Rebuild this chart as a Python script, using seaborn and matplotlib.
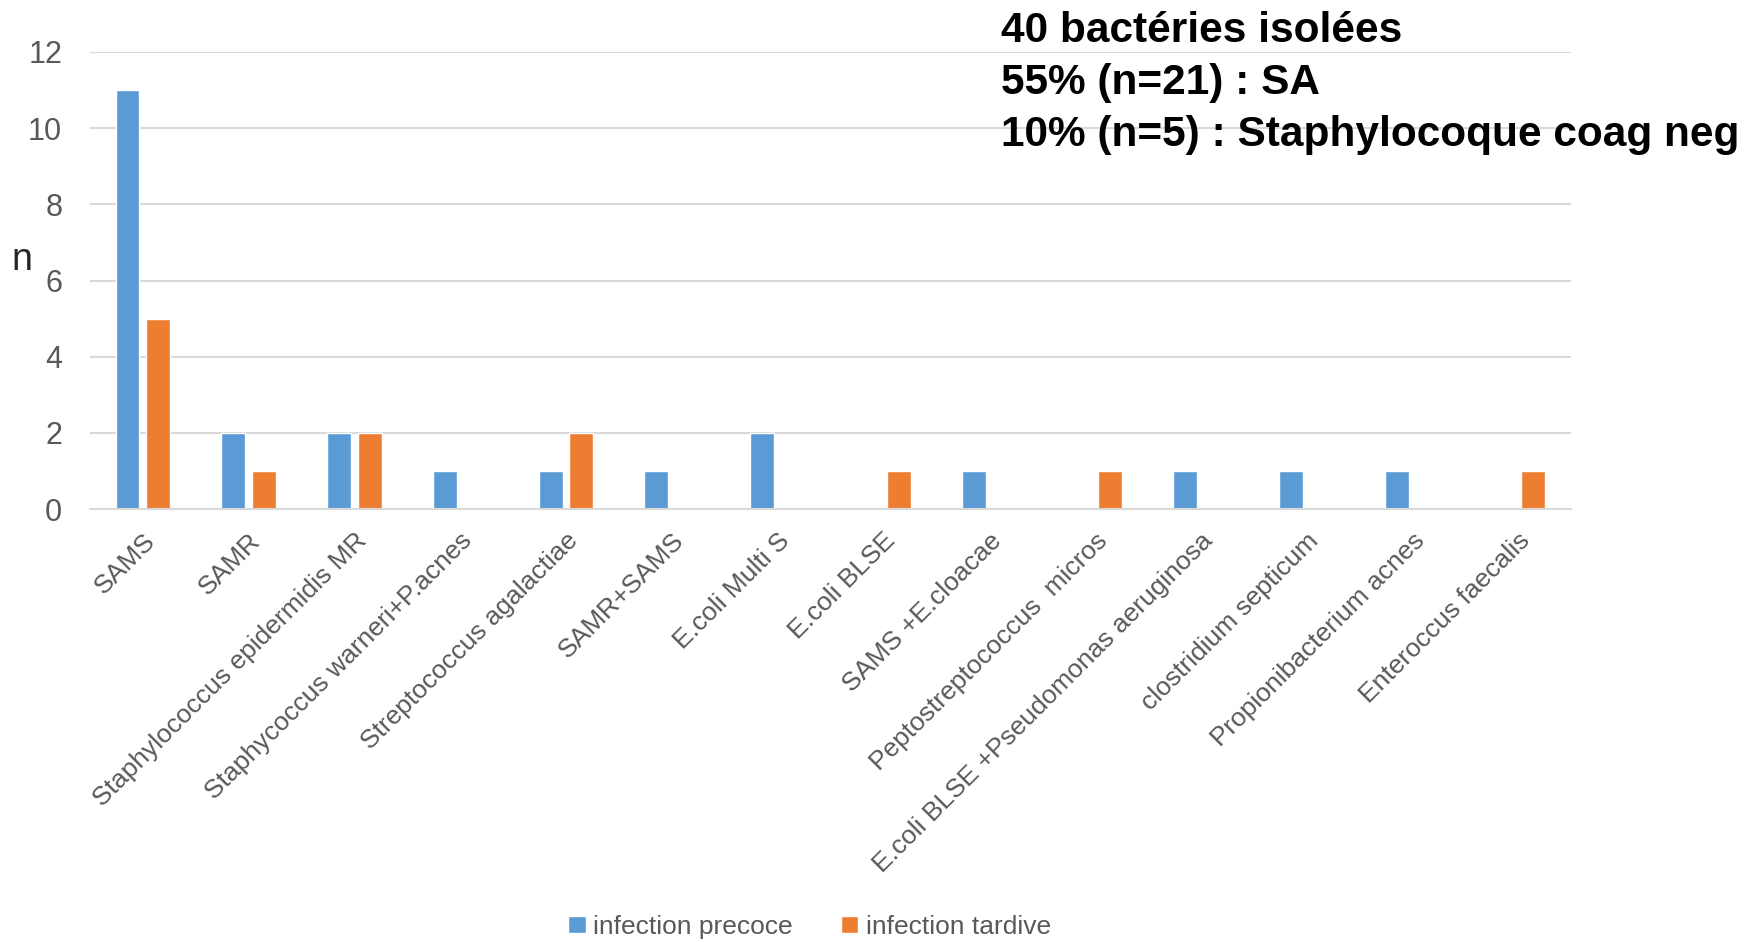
import matplotlib
matplotlib.use("Agg")
import matplotlib.pyplot as plt
import seaborn as sns
import pandas as pd

categories = [
    "SAMS", "SAMR", "Staphylococcus epidermidis MR", "Staphycoccus warneri+P.acnes",
    "Streptococcus agalactiae", "SAMR+SAMS", "E.coli Multi S", "E.coli BLSE",
    "SAMS +E.cloacae", "Peptostreptococcus  micros",
    "E.coli BLSE +Pseudomonas aeruginosa", "clostridium septicum",
    "Propionibacterium acnes", "Enteroccus faecalis",
]
precoce = [11, 2, 2, 1, 1, 1, 2, 0, 1, 0, 1, 1, 1, 0]
tardive = [5, 1, 2, 0, 2, 0, 0, 1, 0, 1, 0, 0, 0, 1]
series_names = ["infection precoce", "infection tardive"]
colors = ["#5B9BD5", "#ED7D31"]
y_ticks = [0, 2, 4, 6, 8, 10, 12]
note_lines = ["40 bactéries isolées", "55% (n=21) : SA", "10% (n=5) : Staphylocoque coag neg"]

df = pd.DataFrame({
    "cat": categories * 2,
    "n": precoce + tardive,
    "serie": [series_names[0]] * len(categories) + [series_names[1]] * len(categories),
})

sns.set_style("white")
plt.rcParams["font.family"] = ["Liberation Sans", "DejaVu Sans"]

fig = plt.figure(figsize=(17.6, 9.42), dpi=100)
ax = fig.add_axes([0.0511, 0.4595, 0.8415, 0.4853])

sns.barplot(data=df, x="cat", y="n", hue="serie", palette=colors,
            width=0.58, gap=0.22, saturation=1, ax=ax, legend=True)

ax.set_ylim(0, 12)
ax.set_yticks(y_ticks)
ax.set_xlim(-0.5, len(categories) - 0.5)
ax.yaxis.grid(True, color="#D9D9D9", linewidth=1.5)
ax.set_axisbelow(True)
for side in ["left", "right", "top"]:
    ax.spines[side].set_visible(False)
ax.spines["bottom"].set_color("#D9D9D9")
ax.spines["bottom"].set_linewidth(1.5)
ax.tick_params(axis="both", length=0)
ax.tick_params(axis="y", pad=20, labelsize=22, labelcolor="#595959")
ax.set_xlabel("")
ax.set_ylabel("n", rotation=0, fontsize=27, va="center", ha="center")
ax.yaxis.set_label_coords(-0.046, 0.545)

ax.set_xticks(range(len(categories)))
ax.set_xticklabels(categories, rotation=45, ha="right", rotation_mode="anchor",
                   fontsize=19, color="#595959")
ax.tick_params(axis="x", pad=14)

ax.get_legend().remove()
handles, labels = ax.get_legend_handles_labels()
leg = fig.legend(handles, labels, loc="center", bbox_to_anchor=(0.460, 0.016), ncol=2,
                 frameon=False, fontsize=19, handlelength=0.65, handleheight=0.65,
                 handletextpad=0.3, columnspacing=1.8)
for t in leg.get_texts():
    t.set_color("#595959")

for i, line in enumerate(note_lines):
    fig.text(0.569, 0.967 - i * 0.055, line, fontsize=30.5, fontweight="bold",
             va="center", ha="left", color="black")

fig.savefig("out.png", dpi=100)
